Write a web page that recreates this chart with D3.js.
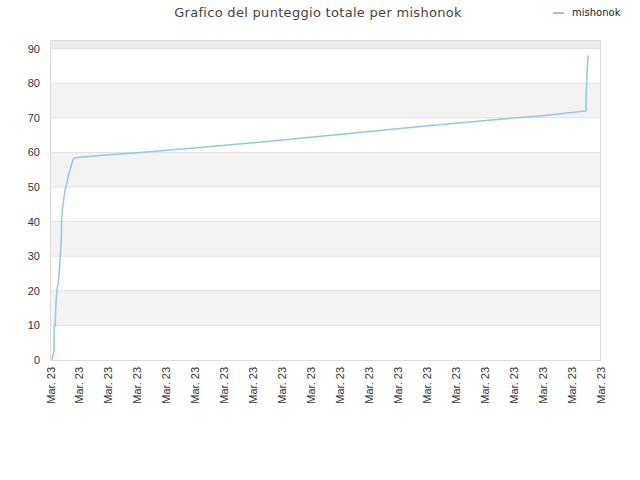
<!DOCTYPE html>
<html>
<head>
<meta charset="utf-8">
<script src="https://cdn.jsdelivr.net/npm/d3@7"></script>
<style>
  body { margin: 0; background: #fff; }
  svg { font-family: "DejaVu Sans", sans-serif; }
</style>
</head>
<body>
<div id="chart"></div>
<script>
// Sample data (x = position along time axis in tick units, y = total score)
const seriesName = "mishonok";
const pointTimes = [0.07, 0.10, 0.14, 0.145, 0.18, 0.20, 0.22, 0.25, 0.28, 0.31, 0.33, 0.35, 0.37, 0.39, 0.40,
    0.44, 0.47, 0.52, 0.58, 0.62, 0.67, 0.74, 0.79, 0.83, 1.04, 1.73, 3.45, 5.18, 6.91, 8.64, 10.36,
    12.09, 13.82, 15.55, 17.1, 18.48, 18.52, 18.52, 18.56, 18.59];
const pointScores = [0, 1.4, 2.4, 9.6, 10, 15, 18, 21, 21.7, 24.5, 26.6, 29.5, 31.8, 35, 40.5,
    44.3, 46.2, 49, 51, 52.6, 54.4, 56.3, 57.8, 58.4, 58.6, 59.1, 60.2, 61.4, 62.7, 64.1, 65.5,
    66.9, 68.3, 69.6, 70.7, 72.0, 72.0, 76.4, 84.3, 88.1];
const xTickLabels = ["Mar. 23", "Mar. 23", "Mar. 23", "Mar. 23", "Mar. 23", "Mar. 23", "Mar. 23",
    "Mar. 23", "Mar. 23", "Mar. 23", "Mar. 23", "Mar. 23", "Mar. 23", "Mar. 23", "Mar. 23",
    "Mar. 23", "Mar. 23", "Mar. 23", "Mar. 23", "Mar. 23"];
const yTicks = [0, 10, 20, 30, 40, 50, 60, 70, 80, 90];

const data = pointTimes.map((t, i) => ({ t: t, v: pointScores[i] }));

// Dimensions
const margin = { top: 40, right: 40, bottom: 120, left: 50 };
const width = 640 - margin.left - margin.right;
const height = 480 - margin.top - margin.bottom;

const svg = d3.select("#chart")
    .append("svg")
    .attr("width", 640)
    .attr("height", 480);

const g = svg.append("g")
    .attr("transform", `translate(${margin.left},${margin.top})`);

// Scales
const x = d3.scaleLinear()
    .domain([0, xTickLabels.length - 1])
    .range([0, width]);

const y = d3.scaleLinear()
    .domain([0, 92.5])
    .range([height, 0]);

// Alternating bands
const bandEdges = yTicks.concat([92.5]);
for (let i = 0; i < bandEdges.length - 1; i++) {
    if (i % 2 === 1) {
        g.append("rect")
            .attr("x", 0)
            .attr("y", y(bandEdges[i + 1]))
            .attr("width", width)
            .attr("height", y(bandEdges[i]) - y(bandEdges[i + 1]))
            .style("fill", i === bandEdges.length - 2 ? "#ececec" : "#f3f3f3");
    }
}

// Gridlines
g.selectAll(".grid")
    .data(yTicks.slice(1))
    .enter()
    .append("line")
    .attr("class", "grid")
    .attr("x1", 0)
    .attr("x2", width)
    .attr("y1", d => y(d))
    .attr("y2", d => y(d))
    .style("stroke", "#e0e0e0")
    .style("stroke-width", 1);

// Plot frame
g.append("rect")
    .attr("x", 0.5)
    .attr("y", 0.5)
    .attr("width", width)
    .attr("height", height)
    .style("fill", "none")
    .style("stroke", "#dcdcdc");

// Y axis
const yAxis = g.append("g")
    .call(d3.axisLeft(y).tickValues(yTicks).tickSize(0).tickPadding(10));
yAxis.select(".domain").remove();
yAxis.selectAll("text")
    .style("fill", "#333")
    .style("font-size", "11px");

// X axis
const xAxis = g.append("g")
    .attr("transform", `translate(0,${height})`)
    .call(d3.axisBottom(x)
        .tickValues(d3.range(xTickLabels.length))
        .tickFormat(i => xTickLabels[i])
        .tickSize(0));
xAxis.select(".domain").style("stroke", "#dcdcdc");
xAxis.selectAll("text")
    .style("fill", "#333")
    .style("font-size", "11px")
    .attr("text-anchor", "end")
    .attr("transform", "rotate(-90)")
    .attr("dx", "-7px")
    .attr("dy", "4px")
    .attr("x", 0)
    .attr("y", 0);

// Line
const line = d3.line()
    .x(d => x(d.t))
    .y(d => y(d.v));

g.append("path")
    .datum(data)
    .attr("d", line)
    .style("fill", "none")
    .style("stroke", "#92c5f2")
    .style("stroke-width", 1.5);

// Title
svg.append("text")
    .attr("x", 318)
    .attr("y", 17)
    .attr("text-anchor", "middle")
    .style("font-size", "13px")
    .style("fill", "#444")
    .style("letter-spacing", "0.3px")
    .text("Grafico del punteggio totale per mishonok");

// Legend
svg.append("line")
    .attr("x1", 553)
    .attr("x2", 564)
    .attr("y1", 13)
    .attr("y2", 13)
    .style("stroke", "#92c5f2")
    .style("stroke-width", 2);
svg.append("text")
    .attr("x", 572)
    .attr("y", 16)
    .style("font-size", "10px")
    .style("fill", "#222")
    .text(seriesName);
</script>
</body>
</html>
